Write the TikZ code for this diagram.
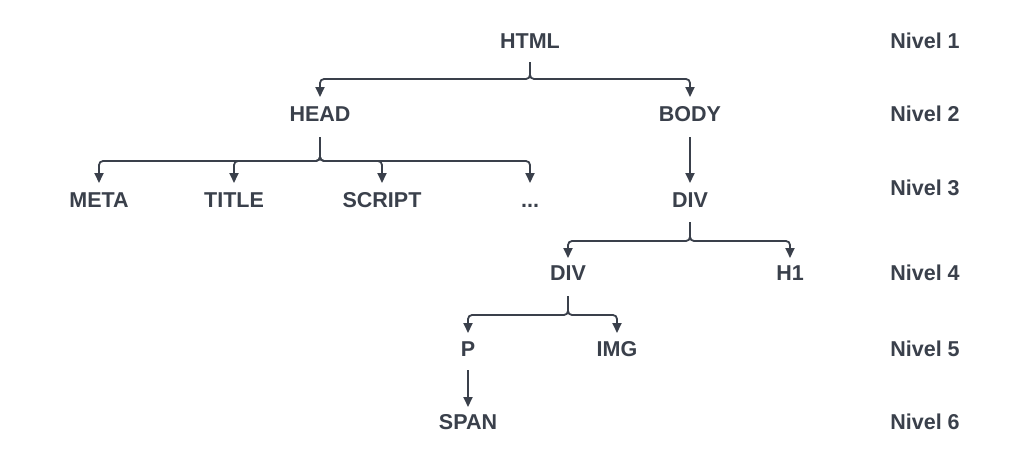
\documentclass[tikz,border=0pt]{standalone}
\usepackage{fontspec}
\setmainfont{Liberation Sans}
\usetikzlibrary{arrows.meta,calc}
\definecolor{ink}{HTML}{3A404B}
\begin{document}
\begin{tikzpicture}[x=1pt,y=-1pt,
  lbl/.style={font=\bfseries\fontsize{21.5}{24}\selectfont, text=ink, inner sep=0pt, anchor=center, text height=15.5pt, text depth=0pt},
  conn/.style={draw=ink, line width=1.8pt, rounded corners=4pt, -{Triangle[length=10pt,width=9pt]}}]
\useasboundingbox (0,0) rectangle (1024,469);
\fill[white] (0,0) rectangle (1024,469);
% tree nodes
\node[lbl] (html) at (530,41) {HTML};
\node[lbl] (head) at (320,114) {HEAD};
\node[lbl] (body) at (690,114) {BODY};
\node[lbl] (meta) at (99,200) {META};
\node[lbl] (title) at (234,200) {TITLE};
\node[lbl] (script) at (382,200) {SCRIPT};
\node[lbl] (dots) at (530,200) {...};
\node[lbl] (div1) at (690,200) {DIV};
\node[lbl] (div2) at (568,273) {DIV};
\node[lbl] (h1) at (790,273) {H1};
\node[lbl] (p) at (468,349) {P};
\node[lbl] (img) at (617,349) {IMG};
\node[lbl] (span) at (468,422) {SPAN};
% level labels
\node[lbl] (n1) at (925,41) {Nivel 1};
\node[lbl] (n2) at (925,114) {Nivel 2};
\node[lbl] (n3) at (925,188) {Nivel 3};
\node[lbl] (n4) at (925,273) {Nivel 4};
\node[lbl] (n5) at (925,349) {Nivel 5};
\node[lbl] (n6) at (925,422) {Nivel 6};
% connectors
\foreach \c in {head,body}
  \draw[conn] ([yshift=-21pt]html.center) -- ++(0,17) -| ([yshift=17pt]\c.center);
\foreach \c in {meta,title,script,dots}
  \draw[conn] ([yshift=-23pt]head.center) -- ++(0,24) -| ([yshift=17pt]\c.center);
\draw[conn] ([yshift=-23pt]body.center) -- ([yshift=17pt]div1.center);
\foreach \c in {div2,h1}
  \draw[conn] ([yshift=-22pt]div1.center) -- ++(0,19) -| ([yshift=15pt]\c.center);
\foreach \c in {p,img}
  \draw[conn] ([yshift=-23pt]div2.center) -- ++(0,19) -| ([yshift=16pt]\c.center);
\draw[conn] ([yshift=-21pt]p.center) -- ([yshift=15pt]span.center);
\end{tikzpicture}
\end{document}
